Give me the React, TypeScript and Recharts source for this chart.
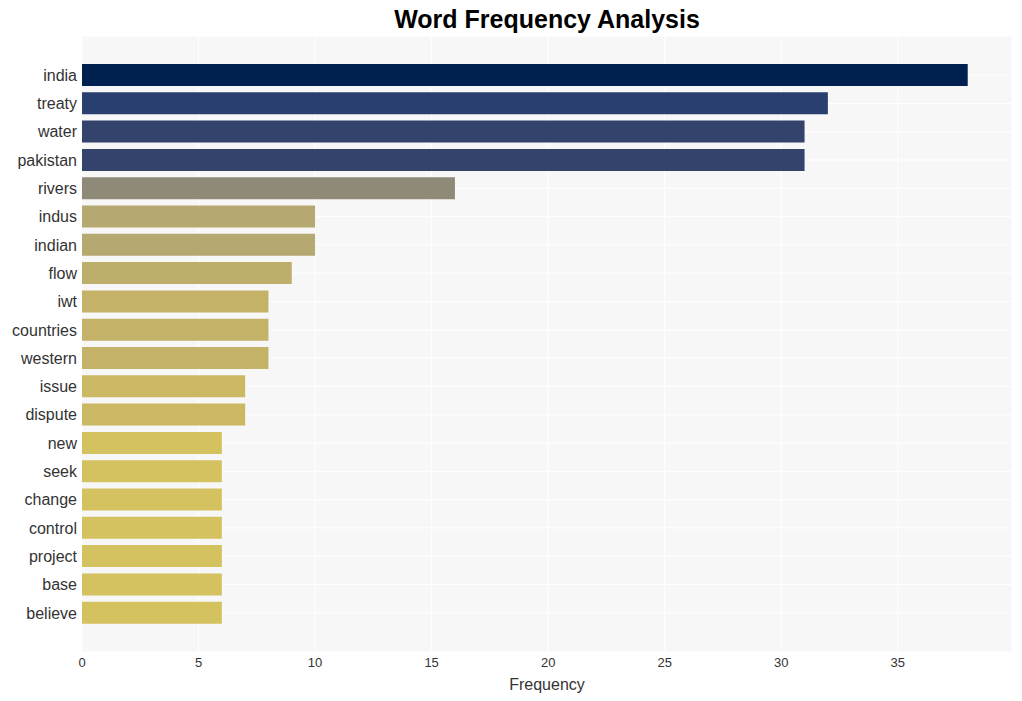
import React from 'react';
import { BarChart, Bar, XAxis, YAxis, CartesianGrid, Cell } from 'recharts';

const words = [
  'india', 'treaty', 'water', 'pakistan', 'rivers', 'indus', 'indian', 'flow', 'iwt', 'countries',
  'western', 'issue', 'dispute', 'new', 'seek', 'change', 'control', 'project', 'base', 'believe',
];
const counts = [38, 32, 31, 31, 16, 10, 10, 9, 8, 8, 8, 7, 7, 6, 6, 6, 6, 6, 6, 6];
const barColors = [
  '#00204f', '#283f6f', '#33436b', '#33436b', '#8f8a78', '#b5a870', '#b5a870', '#bdae6b', '#c3b267', '#c3b267',
  '#c3b267', '#cbb863', '#cbb863', '#d4c160', '#d4c160', '#d4c160', '#d4c160', '#d4c160', '#d4c160', '#d4c160',
];
const xTicks = [0, 5, 10, 15, 20, 25, 30, 35];

const data = words.map((word, i) => ({ word, count: counts[i] }));

const FONT = 'Arial, "Liberation Sans", Helvetica, sans-serif';

export default function App() {
  return (
    <div style={{ position: 'absolute', left: 0, top: 0, width: 1022, height: 701, background: '#fff', fontFamily: FONT }}>
      <div
        style={{
          position: 'absolute',
          left: 82,
          width: 930,
          top: 4,
          textAlign: 'center',
          fontSize: 25,
          fontWeight: 'bold',
          color: '#000',
          lineHeight: '30px',
        }}
      >
        Word Frequency Analysis
      </div>
      <BarChart
        width={1022}
        height={701}
        data={data}
        layout="vertical"
        margin={{ top: 36, right: 10, bottom: 0, left: 0 }}
        barCategoryGap={0}
      >
        <CartesianGrid fill="#f7f7f7" stroke="#ffffff" strokeWidth={1} />
        <XAxis
          type="number"
          domain={[0, 39.9]}
          ticks={xTicks}
          axisLine={false}
          tickLine={false}
          tickSize={0}
          tickMargin={6}
          height={49}
          tick={{ fontSize: 13, fill: '#333', fontFamily: FONT }}
          label={{ value: 'Frequency', position: 'insideBottom', offset: 11, fontSize: 16, fill: '#333', fontFamily: FONT }}
        />
        <YAxis
          type="category"
          dataKey="word"
          width={82}
          axisLine={false}
          tickLine={false}
          tickSize={0}
          tickMargin={5}
          interval={0}
          padding={{ top: 25, bottom: 25 }}
          tick={{ fontSize: 16, fill: '#333', fontFamily: FONT }}
        />
        <Bar dataKey="count" barSize={22} isAnimationActive={false}>
          {data.map((entry, index) => (
            <Cell key={`cell-${index}`} fill={barColors[index]} />
          ))}
        </Bar>
      </BarChart>
    </div>
  );
}
